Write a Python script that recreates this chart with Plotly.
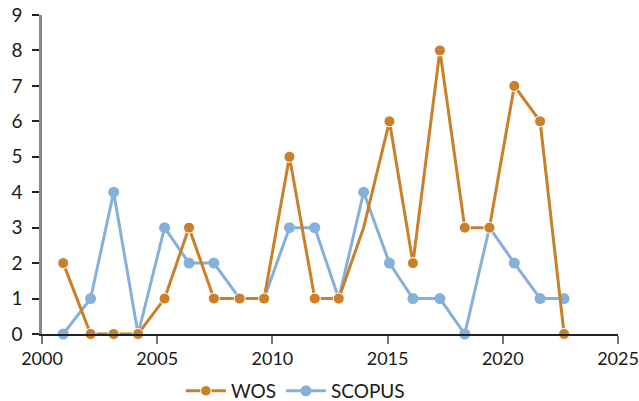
import plotly.graph_objects as go

# x positions (years)
years = [2000.92, 2002.11, 2003.11, 2004.17, 2005.32, 2006.38, 2007.46, 2008.58,
         2009.64, 2010.74, 2011.84, 2012.88, 2013.96, 2015.08, 2016.10, 2017.27,
         2018.35, 2019.42, 2020.50, 2021.62, 2022.66]
wos = [2, 0, 0, 0, 1, 3, 1, 1, 1, 5, 1, 1, 3, 6, 2, 8, 3, 3, 7, 6, 0]
scopus = [0, 1, 4, 0, 3, 2, 2, 1, 1, 3, 3, 1, 4, 2, 1, 1, 0, 3, 2, 1, 1]

x_ticks = [2000, 2005, 2010, 2015, 2020, 2025]
y_ticks = [0, 1, 2, 3, 4, 5, 6, 7, 8, 9]

orange = "#C98029"
blue = "#85B0DA"
font_family = "Lato, 'Open Sans', sans-serif"

wos_sizes = [11] * len(wos)
wos_sizes[12] = 0  # no visible marker at this point in the reference

fig = go.Figure()
fig.add_trace(go.Scatter(
    x=years, y=scopus, name="SCOPUS", mode="lines+markers",
    line=dict(color=blue, width=3), marker=dict(color=blue, size=11, opacity=1),
    cliponaxis=False, showlegend=False))
fig.add_trace(go.Scatter(
    x=years, y=wos, name="WOS", mode="lines+markers",
    line=dict(color=orange, width=3),
    marker=dict(color=orange, size=wos_sizes, opacity=1, sizemode="diameter"),
    cliponaxis=False))
# legend entry for SCOPUS (placed after WOS)
fig.add_trace(go.Scatter(
    x=[None], y=[None], name="SCOPUS", mode="lines+markers",
    line=dict(color=blue, width=3), marker=dict(color=blue, size=11)))

fig.update_layout(
    width=639, height=401, autosize=False,
    margin=dict(l=42, r=21, t=15, b=67, autoexpand=False),
    plot_bgcolor="white", paper_bgcolor="white",
    font=dict(family=font_family, size=19, color="#1a1a1a"),
    showlegend=True,
    legend=dict(orientation="h", x=0.44, xanchor="center",
                yref="container", y=0.025, yanchor="middle",
                font=dict(size=19), itemwidth=40, traceorder="normal"),
)
fig.update_xaxes(
    range=[2000, 2025], tickvals=x_ticks, showgrid=False, zeroline=False,
    showline=True, linecolor="#222", linewidth=1.5,
    ticks="outside", ticklen=8, tickwidth=2, tickcolor="#777",
    automargin=False, ticklabeloverflow="allow", tickfont=dict(size=18),
)
fig.update_yaxes(
    range=[0, 9], tickvals=y_ticks, showgrid=False, zeroline=False,
    showline=True, linecolor="#888", linewidth=2.5,
    ticks="outside", ticklen=7, tickwidth=1.5, tickcolor="#222",
    ticklabelstandoff=6, automargin=False, ticklabeloverflow="allow",
)

fig.write_html(
    "out.html",
    config={"displayModeBar": False},
    post_script="document.body.style.margin='0';document.body.style.overflow='hidden';",
)
